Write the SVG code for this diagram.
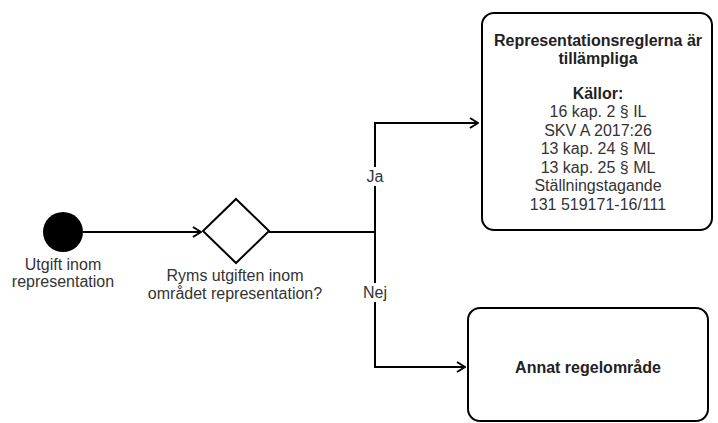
<svg xmlns="http://www.w3.org/2000/svg" width="718" height="423" viewBox="0 0 718 423">
<style>
text{font-family:"Liberation Sans",Arial,sans-serif;font-size:16px;fill:#333;text-anchor:middle}
.b{font-weight:bold;fill:#222}
.shape{fill:#fff;stroke:#000;stroke-width:2}
.edge{fill:none;stroke:#000;stroke-width:2}
.lbl{fill:#fff;stroke:none}
</style>
<defs>
<marker id="arr" markerWidth="10" markerHeight="12" refX="9" refY="6" orient="auto" markerUnits="userSpaceOnUse">
<path d="M1,1 L9,6 L1,11" fill="none" stroke="#000" stroke-width="2"/>
</marker>
</defs>
<rect width="718" height="423" fill="#fff"/>
<g id="connectors">
<path class="edge" d="M83,232 H201" marker-end="url(#arr)"/>
<path class="edge" d="M269,232 H375 V123 H478" marker-end="url(#arr)"/>
<path class="edge" d="M269,232 H375 V367 H465" marker-end="url(#arr)"/>
<rect class="lbl" x="363" y="167" width="24" height="19"/>
<text x="375" y="182">Ja</text>
<rect class="lbl" x="359" y="283" width="32" height="19"/>
<text x="375" y="298">Nej</text>
</g>
<g id="start">
<circle cx="63" cy="232" r="20" fill="#000"/>
<text x="63" y="270">Utgift inom</text>
<text x="63" y="287">representation</text>
</g>
<g id="decision">
<path class="shape" d="M236,199 L269,231 L236,263 L203,231 Z"/>
<text x="235" y="281">Ryms utgiften inom</text>
<text x="235" y="299">området representation?</text>
</g>
<g id="rules">
<rect class="shape" x="482" y="13" width="230" height="217" rx="12"/>
<text class="b" x="598" y="46">Representationsreglerna är</text>
<text class="b" x="598" y="64">tillämpliga</text>
<text class="b" x="598" y="99">Källor:</text>
<text x="598" y="117">16 kap. 2 § IL</text>
<text x="598" y="136">SKV A 2017:26</text>
<text x="598" y="154">13 kap. 24 § ML</text>
<text x="598" y="173">13 kap. 25 § ML</text>
<text x="598" y="191">Ställningstagande</text>
<text x="598" y="210">131 519171-16/111</text>
</g>
<g id="other">
<rect class="shape" x="468" y="308" width="240" height="113" rx="12"/>
<text class="b" x="588" y="373">Annat regelområde</text>
</g>
</svg>
